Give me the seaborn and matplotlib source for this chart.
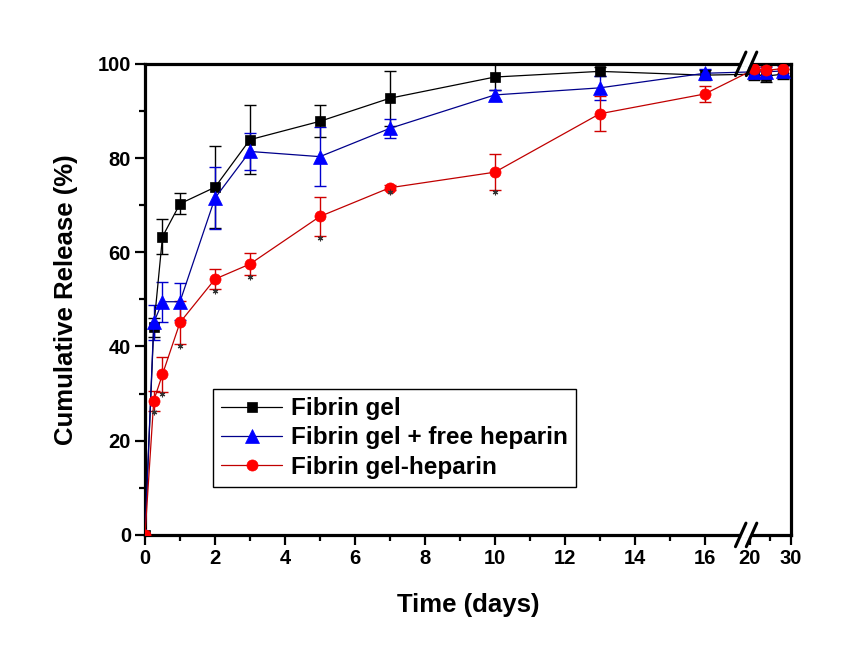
import numpy as np
import pandas as pd
import matplotlib
matplotlib.use("Agg")
import matplotlib.pyplot as plt
from matplotlib.ticker import FixedLocator
import seaborn as sns

# Release time points (days) and cumulative release (%) with SD
days = [0, 0.25, 0.5, 1, 2, 3, 5, 7, 10, 13, 16, 21, 24, 28]
gel = [0, 44.1, 63.3, 70.3, 73.8, 83.9, 87.8, 92.7, 97.2, 98.4, 97.6, 97.8, 97.4, 97.8]
gel_err = [0, 2.0, 3.7, 2.2, 8.7, 7.3, 3.4, 5.8, 2.7, 1.0, 1.0, 1.2, 1.2, 1.0]
free = [0, 45.1, 49.5, 49.5, 71.5, 81.4, 80.3, 86.3, 93.4, 94.9, 98.0, 98.3, 98.3, 98.5]
free_err = [0, 3.8, 4.2, 3.9, 6.5, 4.0, 6.2, 2.0, 1.0, 2.5, 1.0, 1.0, 1.0, 1.0]
hep = [0, 28.5, 34.1, 45.1, 54.3, 57.5, 67.6, 73.7, 77.0, 89.4, 93.6, 98.8, 98.6, 99.0]
hep_err = [0, 2.1, 3.7, 4.6, 2.2, 2.3, 4.1, 0.5, 3.8, 3.7, 1.8, 1.2, 1.0, 1.0]
# points marked significant (*) for fibrin gel-heparin
sig_days = [0.25, 0.5, 1, 2, 3, 5, 7, 10]

labels = ["Fibrin gel", "Fibrin gel + free heparin", "Fibrin gel-heparin"]
x_major = [0, 2, 4, 6, 8, 10, 12, 14, 16, 20, 30]
x_minor = [1, 3, 5, 7, 9, 11, 13, 15, 25]

sns.set_theme(style="ticks")
plt.rcParams["font.family"] = ["Liberation Sans", "DejaVu Sans"]
plt.rcParams["font.weight"] = "bold"
for key in ("text.color", "axes.labelcolor", "xtick.color", "ytick.color"):
    plt.rcParams[key] = "black"

# broken x axis: 0-17.2 linear, 20-30 squeezed into a short stub
src = [0, 17.2, 20, 30]
dst = [0, 17.2, 17.29, 18.46]
def fwd(x):
    return np.interp(x, src, dst)
def inv(t):
    return np.interp(t, dst, src)

fig = plt.figure(figsize=(8.53, 6.72), dpi=100)
ax = fig.add_axes([0.170, 0.204, 0.757, 0.701])
ax.set_xscale("function", functions=(fwd, inv))

df = pd.DataFrame({"day": days, "gel": gel, "free": free, "hep": hep})

series = [
    ("gel", gel_err, "s", 7, "black", "black", "black", labels[0]),
    ("free", free_err, "^", 9.5, "#0000ff", "#00008b", "#0000cc", labels[1]),
    ("hep", hep_err, "o", 8, "#ff0000", "#c00000", "#d00000", labels[2]),
]

for col, err, mk, ms, mcol, lcol, ecol, lab in series:
    ax.errorbar(df["day"], df[col], yerr=err, fmt="none", ecolor=ecol,
                elinewidth=1.0, capsize=4, capthick=1.0, zorder=2)
    sns.lineplot(data=df, x="day", y=col, ax=ax, color=lcol, linewidth=0.9,
                 marker=mk, markersize=ms, markerfacecolor=mcol,
                 markeredgecolor=mcol, markeredgewidth=0.5, label=lab, zorder=3)

# asterisks under the heparin-bound points
sig_y = [hep[days.index(d)] - hep_err[days.index(d)] - 0.4 for d in sig_days]
ax.plot(sig_days, sig_y, linestyle="none", marker=(6, 2, 0), markersize=4,
        color="#333333", markeredgewidth=0.8, zorder=4)

ax.set_xlim(0, 30)
ax.set_ylim(0, 100)
ax.xaxis.set_major_locator(FixedLocator(x_major))
ax.xaxis.set_minor_locator(FixedLocator(x_minor))
ax.set_yticks([0, 20, 40, 60, 80, 100])
ax.yaxis.set_minor_locator(FixedLocator([10, 30, 50, 70, 90]))
ax.set_xticklabels([str(v) for v in x_major])

ax.tick_params(axis="both", which="major", direction="out", length=7, width=1.6,
               labelsize=14.5, pad=3, top=False, right=False, colors="black")
ax.tick_params(axis="both", which="minor", direction="out", length=4, width=1.6,
               top=False, right=False, colors="black")
for lb in ax.get_xticklabels() + ax.get_yticklabels():
    lb.set_fontweight("bold")

for sp in ax.spines.values():
    sp.set_visible(True)
    sp.set_linewidth(2.3)
    sp.set_color("black")

ax.set_xlabel("Time (days)", fontsize=18.5, fontweight="bold", labelpad=18)
ax.set_ylabel("Cumulative Release (%)", fontsize=18.5, fontweight="bold", labelpad=14)

# break marks on top and bottom spines (positions in scaled units)
xt = ax.get_xaxis_transform()
for yb in (0, 1):
    ax.plot([inv(17.10), inv(17.27)], [yb, yb], transform=xt,
            color="white", linewidth=4, clip_on=False, zorder=5)
    for tc in (17.03, 17.34):
        ax.plot([inv(tc - 0.15), inv(tc + 0.15)], [yb - 0.025, yb + 0.025],
                transform=xt, color="black", linewidth=2.2, clip_on=False, zorder=6)

leg = ax.legend(loc="upper left", bbox_to_anchor=(0.105, 0.31), borderaxespad=0,
                fancybox=False, framealpha=1, edgecolor="black", handlelength=2.5,
                handletextpad=0.35, labelspacing=0.25, borderpad=0.35,
                prop={"size": 17.5, "weight": "bold"})
leg.get_frame().set_linewidth(1.0)

fig.savefig("out.png", dpi=100)
